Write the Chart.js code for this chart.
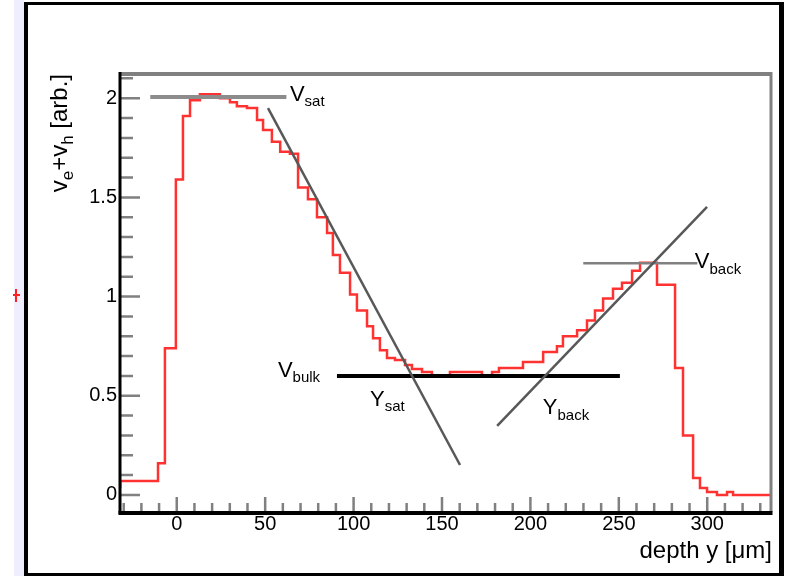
<!DOCTYPE html>
<html>
<head>
<meta charset="utf-8">
<script src="https://cdn.jsdelivr.net/npm/chart.js@4.4.0/dist/chart.umd.min.js"></script>
<style>
  html, body { margin: 0; padding: 0; background: #fff; }
</style>
</head>
<body>
<canvas id="profile" width="798" height="576"></canvas>
<script>
// histogram bin edges (depth y, um) and contents (v_e+v_h, arb.)
const binEdges = [-32, -10.6, -6.7, -0.5, 3.5, 7.5, 13.1, 24.4, 30.1, 34, 39.7, 45.4, 48.8, 53.8, 58.5,
  64, 68.6, 74.2, 79.3, 85, 88.3, 92.3, 98, 101.9, 107.6, 111, 114.9, 118.9, 123.4, 129.1, 133, 138.7,
  144.3, 154.5, 172.6, 178.3, 182.2, 195.8, 207.2, 215, 218.4, 226.4, 232, 236.5, 241.1, 246.7, 251.8,
  257.5, 262, 266.5, 271.6, 281.8, 286.3, 292, 295.9, 299.9, 305.5, 311.2, 314.6, 319.7, 335.5];
const velocity = [0.035, 0.07, 0.16, 0.74, 1.59, 1.91, 1.99, 2.02, 2.00, 1.98, 1.96, 1.95, 1.89, 1.84,
  1.78, 1.73, 1.72, 1.55, 1.49, 1.40, 1.32, 1.21, 1.12, 1.01, 0.93, 0.85, 0.79, 0.73, 0.69, 0.68, 0.655,
  0.635, 0.62, 0.60, 0.62, 0.60, 0.62, 0.64, 0.67, 0.72, 0.75, 0.80, 0.83, 0.88, 0.93, 0.99, 1.04, 1.07,
  1.13, 1.17, 1.17, 1.06, 0.64, 0.30, 0.085, 0.035, 0.015, 0.0, 0.015, 0.0];

const xTicks = [0, 50, 100, 150, 200, 250, 300];
const yTicks = [0, 0.5, 1, 1.5, 2];

// levels and tangents, end points as [depth, value]
const vSatLevel = [[-15, 2.006], [62, 2.006]];
const satTangent = [[51.6, 1.95], [160.2, 0.151]];
const vBulkLevel = [[90.6, 0.60], [250.6, 0.60]];
const backTangent = [[181.2, 0.348], [299.9, 1.452]];
const vBackLevel = [[229.9, 1.168], [294.4, 1.168]];

const notes = [
  { main: 'V', sub: 'sat', y: 64, v: 1.986 },
  { main: 'V', sub: 'back', y: 293, v: 1.144 },
  { main: 'V', sub: 'bulk', y: 57.2, v: 0.595 },
  { main: 'Y', sub: 'sat', y: 109.3, v: 0.449 },
  { main: 'Y', sub: 'back', y: 207, v: 0.408 }
];

const FONT = '"Liberation Sans", Arial, sans-serif';

function toPoints(pairs) {
  return pairs.map(p => ({ x: p[0], y: p[1] }));
}

const histPoints = velocity.map((v, i) => ({ x: binEdges[i], y: v }));
histPoints.push({ x: binEdges[binEdges.length - 1], y: velocity[velocity.length - 1] });

// draws text with subscripts, returns nothing
function richText(c, parts, x, y, size, align) {
  const subSize = Math.round(size * 0.7);
  let total = 0;
  parts.forEach(p => {
    c.font = (p.sub ? subSize : size) + 'px ' + FONT;
    p.w = c.measureText(p.t).width;
    total += p.w;
  });
  let cx = align === 'right' ? x - total : x;
  parts.forEach(p => {
    c.font = (p.sub ? subSize : size) + 'px ' + FONT;
    c.fillText(p.t, cx, y + (p.sub ? size * 0.25 : 0));
    cx += p.w;
  });
}

const framePlugin = {
  id: 'frame',
  beforeDraw(chart) {
    const c = chart.ctx;
    c.save();
    c.fillStyle = '#fff';
    c.fillRect(0, 0, 798, 576);
    c.fillStyle = '#eeeeff';
    c.fillRect(14, 0, 10, 576);
    c.strokeStyle = '#ff2020';
    c.lineWidth = 2;
    c.beginPath();
    c.moveTo(13, 295); c.lineTo(20, 295);
    c.moveTo(16, 289); c.lineTo(16, 302);
    c.stroke();
    c.fillStyle = '#000';
    c.fillRect(24, 2, 4, 574);
    c.fillRect(779, 2, 5, 574);
    c.fillRect(24, 2, 760, 3);
    c.fillRect(24, 573, 760, 3);
    c.restore();
  },
  afterDatasetsDraw(chart) {
    const { ctx: c, chartArea: a, scales: { x, y } } = chart;
    c.save();
    c.strokeStyle = '#808080';
    c.lineWidth = 2.5;
    c.beginPath();
    for (let v = -30; v <= 330; v += 10) {
      const px = x.getPixelForValue(v);
      const len = v % 50 === 0 ? 15 : 9;
      c.moveTo(px, a.bottom);
      c.lineTo(px, a.bottom - len);
    }
    for (let k = 0; k <= 21; k++) {
      const py = y.getPixelForValue(k / 10);
      const len = k % 5 === 0 ? 20 : 13;
      c.moveTo(a.left, py);
      c.lineTo(a.left + len, py);
    }
    c.stroke();

    c.fillStyle = '#808080';
    c.fillRect(a.left, a.top - 2, a.right - a.left + 2, 4);
    c.fillRect(a.right - 0.5, a.top - 2, 3, a.bottom - a.top + 2);
    c.fillStyle = '#000';
    c.fillRect(a.left - 1.5, a.top - 2, 3, a.bottom - a.top + 4);
    c.fillRect(a.left - 1.5, a.bottom - 1, a.right - a.left + 4, 4);

    // annotations
    c.fillStyle = '#000';
    c.textBaseline = 'alphabetic';
    notes.forEach(n => {
      richText(c, [{ t: n.main }, { t: n.sub, sub: true }],
        x.getPixelForValue(n.y), y.getPixelForValue(n.v), 22, 'left');
    });

    // axis titles
    c.font = '24px ' + FONT;
    c.textAlign = 'left';
    richText(c, [{ t: 'depth y [\u03bcm]' }], 772, 558, 24, 'right');

    c.translate(67, 74);
    c.rotate(-Math.PI / 2);
    richText(c, [{ t: 'v' }, { t: 'e', sub: true }, { t: '+v' }, { t: 'h', sub: true }, { t: ' [arb.]' }],
      0, 0, 24, 'right');
    c.restore();
  }
};

const lineStyle = (data, color, width) => ({
  data: toPoints(data), borderColor: color, borderWidth: width,
  showLine: true, pointRadius: 0, fill: false
});

new Chart(document.getElementById('profile'), {
  type: 'scatter',
  data: {
    datasets: [
      lineStyle(satTangent, '#585858', 2.5),
      lineStyle(backTangent, '#585858', 2.5),
      lineStyle(vBulkLevel, '#000000', 4),
      lineStyle(vBackLevel, '#808080', 2.5),
      lineStyle(vSatLevel, '#8c8c8c', 4),
      {
        data: histPoints,
        borderColor: 'rgb(255,50,50)',
        borderWidth: 2.5,
        showLine: true,
        stepped: 'after',
        pointRadius: 0,
        fill: false
      }
    ]
  },
  options: {
    responsive: false,
    animation: false,
    devicePixelRatio: 1,
    layout: { padding: { left: 0, top: 74, right: 28, bottom: 0 } },
    plugins: { legend: { display: false }, tooltip: { enabled: false } },
    scales: {
      x: {
        type: 'linear',
        min: -32.1,
        max: 335.5,
        afterFit: s => { s.height = 64; },
        afterBuildTicks: s => { s.ticks = xTicks.map(v => ({ value: v })); },
        grid: { display: false, drawTicks: false },
        border: { display: false },
        ticks: {
          padding: 0,
          color: '#000',
          font: { family: FONT, size: 20 },
          callback: v => String(v)
        }
      },
      y: {
        type: 'linear',
        min: -0.086,
        max: 2.122,
        afterFit: s => { s.width = 120; },
        afterBuildTicks: s => { s.ticks = yTicks.map(v => ({ value: v })); },
        grid: { display: false, drawTicks: false },
        border: { display: false },
        ticks: {
          padding: 3,
          color: '#000',
          font: { family: FONT, size: 20 },
          callback: v => String(v)
        }
      }
    }
  },
  plugins: [framePlugin]
});
</script>
</body>
</html>
